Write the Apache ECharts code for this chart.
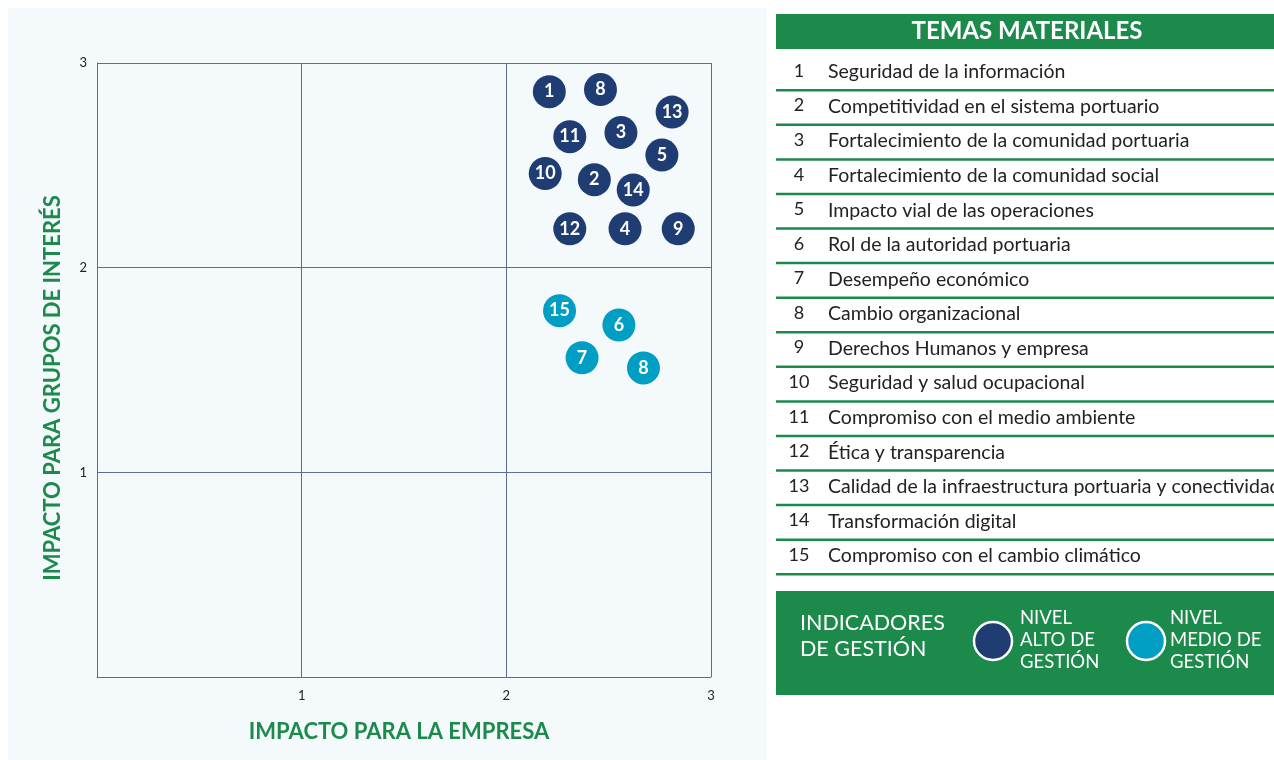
<!DOCTYPE html>
<html>
<head>
<meta charset="utf-8">
<script src="https://cdn.jsdelivr.net/npm/echarts@6/dist/echarts.min.js"></script>
<style>
  html, body { margin: 0; padding: 0; background: #ffffff; }
  #chart { width: 1274px; height: 760px; }
</style>
</head>
<body>
<div id="chart"></div>
<script>
// datos
var axisTicks = [1, 2, 3];

var altoIds = ['1', '8', '13', '11', '3', '5', '10', '2', '14', '12', '4', '9'];
var altoX   = [2.21, 2.46, 2.81, 2.31, 2.56, 2.76, 2.19, 2.43, 2.62, 2.31, 2.58, 2.84];
var altoY   = [2.86, 2.87, 2.76, 2.64, 2.66, 2.55, 2.46, 2.43, 2.38, 2.19, 2.19, 2.19];

var medioIds = ['15', '6', '7', '8'];
var medioX   = [2.26, 2.55, 2.37, 2.67];
var medioY   = [1.79, 1.72, 1.56, 1.51];

var temas = [
    'Seguridad de la información',
    'Competitividad en el sistema portuario',
    'Fortalecimiento de la comunidad portuaria',
    'Fortalecimiento de la comunidad social',
    'Impacto vial de las operaciones',
    'Rol de la autoridad portuaria',
    'Desempeño económico',
    'Cambio organizacional',
    'Derechos Humanos y empresa',
    'Seguridad y salud ocupacional',
    'Compromiso con el medio ambiente',
    'Ética y transparencia',
    'Calidad de la infraestructura portuaria y conectividad',
    'Transformación digital',
    'Compromiso con el cambio climático'
];

var verde = '#1b8a4b';
var azulOscuro = '#1f3d73';
var azulClaro = '#009ec2';
var font = 'Lato';

function puntos(ids, xs, ys) {
    return ids.map(function (id, i) { return [xs[i], ys[i], id]; });
}

var chart = echarts.init(document.getElementById('chart'));

var graphics = [
    { type: 'rect', z: -10, shape: { x: 8, y: 8, width: 759, height: 752 }, style: { fill: '#f4f9fc' } },
    { type: 'rect', shape: { x: 776, y: 14, width: 498, height: 35 }, style: { fill: verde } },
    { type: 'text', x: 1027, y: 31, style: { text: 'TEMAS MATERIALES', fill: '#fff', font: 'bold 24px ' + font, align: 'center', verticalAlign: 'middle' } }
];

var rowH = 34.57;
temas.forEach(function (t, i) {
    var cy = 72 + i * rowH;
    graphics.push({ type: 'text', x: 799, y: cy - 1, style: { text: String(i + 1), fill: '#222', font: '18px ' + font, align: 'center', verticalAlign: 'middle' } });
    graphics.push({ type: 'text', x: 828, y: cy, style: { text: t, fill: '#222', font: '19.5px ' + font, align: 'left', verticalAlign: 'middle' } });
    graphics.push({ type: 'rect', shape: { x: 776, y: 89 + i * rowH, width: 498, height: 2.5 }, style: { fill: verde } });
});

// leyenda
graphics.push(
    { type: 'rect', shape: { x: 776, y: 591, width: 498, height: 104 }, style: { fill: verde } },
    { type: 'text', x: 800, y: 610, style: { text: 'INDICADORES\nDE GESTIÓN', fill: '#fff', font: '21.5px ' + font, lineHeight: 26 } },
    { type: 'circle', shape: { cx: 993, cy: 641, r: 19 }, style: { fill: azulOscuro, stroke: '#fff', lineWidth: 2.5 } },
    { type: 'text', x: 1020, y: 607, style: { text: 'NIVEL\nALTO DE\nGESTIÓN', fill: '#fff', font: '18.5px ' + font, lineHeight: 22 } },
    { type: 'circle', shape: { cx: 1146, cy: 641, r: 19 }, style: { fill: azulClaro, stroke: '#fff', lineWidth: 2.5 } },
    { type: 'text', x: 1170, y: 607, style: { text: 'NIVEL\nMEDIO DE\nGESTIÓN', fill: '#fff', font: '18.5px ' + font, lineHeight: 22 } }
);

var ejeComun = {
    type: 'value',
    min: 0,
    max: 3,
    interval: 1,
    nameLocation: 'middle',
    axisLine: { show: true, lineStyle: { color: '#5c6b96', width: 1 } },
    axisTick: { show: false },
    splitLine: { show: true, lineStyle: { color: '#5c6b96', width: 1 } },
    axisLabel: {
        color: '#222', fontSize: 13, fontFamily: font, showMinLabel: false,
        formatter: function (v) { return axisTicks.indexOf(v) >= 0 ? String(v) : ''; }
    }
};

var nombreEstilo = { color: verde, fontSize: 22, fontWeight: 'bold', fontFamily: font };

var option = {
    backgroundColor: '#ffffff',
    animation: false,
    textStyle: { fontFamily: font },
    grid: { left: 97, top: 63, width: 614, height: 614 },
    xAxis: Object.assign({}, ejeComun, {
        name: 'IMPACTO PARA LA EMPRESA',
        nameGap: 44,
        nameTextStyle: Object.assign({}, nombreEstilo, { padding: [0, 10, 0, 0] }),
        axisLabel: Object.assign({}, ejeComun.axisLabel, { margin: 12 })
    }),
    yAxis: Object.assign({}, ejeComun, {
        name: 'IMPACTO PARA GRUPOS DE INTERÉS',
        nameGap: 33,
        nameTextStyle: Object.assign({}, nombreEstilo, { padding: [0, 36, 0, 0] }),
        axisLabel: Object.assign({}, ejeComun.axisLabel, { margin: 10 })
    }),
    series: [
        {
            name: 'Nivel alto de gestión',
            type: 'scatter',
            symbolSize: 33,
            itemStyle: { color: azulOscuro, opacity: 1 },
            label: { show: true, position: 'inside', color: '#fff', fontSize: 18, fontWeight: 'bold', fontFamily: font, formatter: function (p) { return p.value[2]; } },
            data: puntos(altoIds, altoX, altoY)
        },
        {
            name: 'Nivel medio de gestión',
            type: 'scatter',
            symbolSize: 33,
            itemStyle: { color: azulClaro, opacity: 1 },
            label: { show: true, position: 'inside', color: '#fff', fontSize: 18, fontWeight: 'bold', fontFamily: font, formatter: function (p) { return p.value[2]; } },
            data: puntos(medioIds, medioX, medioY)
        }
    ],
    graphic: graphics
};

chart.setOption(option);
</script>
</body>
</html>
